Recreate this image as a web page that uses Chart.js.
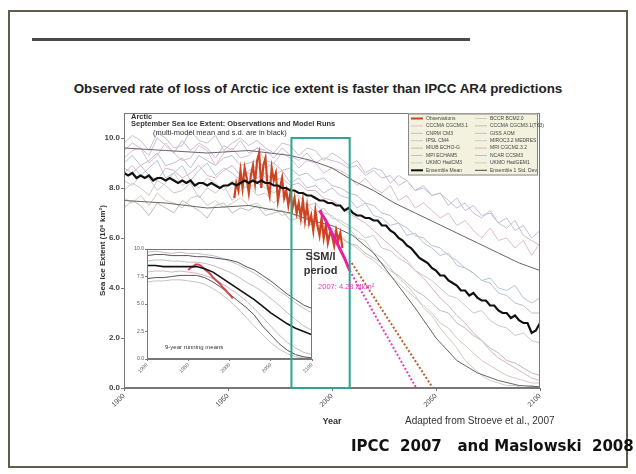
<!DOCTYPE html>
<html><head><meta charset="utf-8">
<script src="https://cdn.jsdelivr.net/npm/chart.js@4.4.1/dist/chart.umd.min.js"></script>
<style>
html,body{margin:0;padding:0;background:#fff;}
#wrap{position:relative;width:636px;height:474px;overflow:hidden;background:#fff;}
canvas{position:absolute;}
#frame{position:absolute;left:8px;top:10px;width:620px;height:458px;border:2px solid #5e5e4a;box-sizing:border-box;}
#rule{position:absolute;left:32px;top:38px;width:438px;height:3px;background:#4a4a4a;}
#title{position:absolute;left:0;width:636px;top:81px;text-align:center;font:bold 13.4px "Liberation Sans",Arial,sans-serif;color:#222;}
#credit{position:absolute;left:405px;top:415px;font:10px "Liberation Sans",Arial,sans-serif;color:#333;}
#footer{position:absolute;left:351px;top:437px;font:bold 15px "DejaVu Sans",sans-serif;white-space:pre;color:#111;}
</style></head>
<body><div id="wrap">
<div id="frame"></div>
<div id="rule"></div>
<div id="title">Observed rate of loss of Arctic ice extent is faster than IPCC AR4 predictions</div>
<canvas id="main" width="636" height="474" style="left:0;top:0"></canvas>
<canvas id="inset" width="192" height="144" style="left:126px;top:242px"></canvas>
<canvas id="overlay" width="636" height="474" style="left:0;top:0;pointer-events:none"></canvas>
<div id="credit">Adapted from Stroeve et al., 2007</div>
<div id="footer">IPCC  2007   and Maslowski  2008</div>
</div>
<script>
function range(a,b,s){const r=[];for(let v=a;v<=b+1e-9;v+=s)r.push(v);return r;}

// ---------- main chart data ----------
const X_TICKS=[1900,1950,2000,2050,2100];
const Y_TICKS=[0,2,4,6,8,10];
const RUN_YEARS=range(1900,2100,4);
const RUN_A=[9.8,10.1,9.9,9.5,10.2,10.0,9.6,9.7,10.3,9.9,9.8,10.1,9.5,9.8,10.0,9.7, 9.9,9.6,9.4,9.8,9.7,9.3,9.6,9.5,9.1,9.4, 9.2,8.9,9.1,8.6,8.8,8.7,8.2,8.5,8.3,7.9, 8.1,7.7,7.8,7.5,7.2,7.4,7.0,6.8,7.1,6.6, 6.4,6.7,6.1,5.9,5.7];
const RUN_B=[9.2,9.5,9.6,9.0,9.3,9.8,9.4,9.1,9.2,9.7,9.5,8.9,9.4,9.6,9.2,9.3, 9.6,9.1,9.0,9.4,9.2,8.8,9.1,9.0,8.6,8.8, 8.7,8.5,8.1,8.4,8.0,7.8,8.1,7.5,7.7,7.2, 7.4,7.1,6.8,7.0,6.5,6.7,6.3,6.0,6.4,5.9, 6.0,5.6,5.9,5.3,5.8];
const RUN_C=[8.6,8.9,8.5,8.8,9.1,8.4,8.6,8.9,8.3,8.7,9.0,8.5,8.8,8.6,8.3,8.7, 8.9,8.4,8.5,8.7,8.2,8.4,8.0,8.1,7.8,8.0, 7.7,7.6,7.2,7.4,6.9,6.8,6.5,6.6,6.1,6.2, 5.8,5.6,5.3,5.4,4.9,4.8,4.6,4.3,4.4,4.0, 3.9,4.1,3.6,3.4,3.6];
const RUN_D=[7.9,8.2,8.0,7.7,8.3,8.1,7.8,7.9,8.2,7.6,8.0,7.8,8.1,7.5,7.9,8.1, 7.7,7.8,7.4,7.7,7.5,7.2,7.4,7.0,7.2,6.8, 6.7,6.5,6.3,6.0,6.1,5.6,5.5,5.2,5.0,4.7, 4.5,4.3,4.0,3.7,3.6,3.3,3.0,3.1,2.7,2.5, 2.4,2.1,2.2,1.9,1.8];
const RUN_E=[7.2,7.5,7.3,6.9,7.4,7.2,7.0,7.5,7.3,7.1,6.8,7.3,7.4,7.0,7.2,7.1, 7.3,6.9,7.0,7.1,6.7,6.8,6.5,6.6,6.2,6.4, 6.0,5.8,5.7,5.4,5.2,5.0,4.7,4.5,4.2,3.9, 3.7,3.4,3.1,3.0,2.6,2.4,2.1,1.9,1.6,1.4, 1.1,1.0,0.8,0.6,0.5];
const RUN_F=[9.5,9.8,9.6,9.3,10.0,9.7,9.4,9.9,9.5,9.8,9.6,9.2,9.7,9.5,9.9,9.4, 9.6,9.5,9.2,9.6,9.3,9.1,9.4,9.0,9.2,9.1, 9.0,8.8,8.9,8.5,8.7,8.4,8.5,8.1,8.3,7.9, 8.0,7.7,7.8,7.3,7.6,7.1,7.3,6.9,7.0,6.6, 6.8,6.3,6.5,6.0,6.3];
const RUN_G=[8.3,8.1,8.5,8.4,7.9,8.2,8.6,8.1,8.3,8.0,8.4,8.2,7.9,8.3,8.1,8.0, 8.2,8.0,7.8,8.0,7.6,7.7,7.3,7.4,7.0,6.9, 6.6,6.4,6.0,5.9,5.4,5.2,4.8,4.4,4.1,3.7, 3.2,2.9,2.4,2.0,1.6,1.1,0.8,0.5,0.3,0.2, 0.1,0.1,0.0,0.1,0.0];
const RUN_H=[8.8,8.6,8.9,8.5,8.3,8.8,8.7,8.4,8.6,8.9,8.5,8.4,8.7,8.9,8.5,8.6, 8.4,8.6,8.3,8.4,8.1,8.2,7.9,7.9,7.6,7.5, 7.3,7.0,6.8,6.6,6.3,6.0,5.7,5.4,5.1,4.7, 4.4,4.0,3.6,3.3,2.9,2.6,2.2,1.9,1.5,1.2, 1.0,0.8,0.6,0.4,0.3];
const RUN_I=[9.0,9.3,8.9,9.1,9.4,8.9,9.0,9.2,8.8,9.3,9.1,8.9,9.2,9.3,8.9,9.0, 9.1,8.8,9.0,8.7,8.8,8.5,8.6,8.3,8.4,8.1, 8.0,7.8,7.7,7.4,7.3,7.0,6.9,6.6,6.4,6.1, 6.0,5.7,5.6,5.3,5.1,4.8,4.6,4.3,4.2,3.8, 3.7,3.4,3.3,3.0,3.0];
const RUN_J=[7.6,7.4,7.7,7.3,7.8,7.5,7.4,7.2,7.6,7.7,7.3,7.5,7.2,7.4,7.6,7.3, 7.4,7.1,7.2,6.9,7.0,6.8,6.8,6.5,6.5,6.2, 6.1,5.8,5.6,5.3,5.1,4.8,4.5,4.2,3.9,3.6, 3.3,3.0,2.6,2.4,2.0,1.7,1.4,1.1,0.9,0.7, 0.5,0.4,0.3,0.2,0.2];
const RUNS=[RUN_A,RUN_B,RUN_C,RUN_D,RUN_E,RUN_F,RUN_G,RUN_H,RUN_I,RUN_J];
const RUN_COLORS=['#c6c0c6','#e0bccd','#b6c4da','#d2c4c8','#bcbcbc','#cab8de','#c6d0c4','#dab2c4','#b8bfcc','#d6c8bc'];

const SD_YEARS=[1900,1920,1940,1960,1980,1990,2000,2010,2020,2030,2040,2050,2060,2070,2080,2090,2100];
const SD_UPPER=[9.6,9.5,9.4,9.5,9.3,9.1,8.8,8.3,7.9,7.4,7.0,6.6,6.2,5.8,5.4,5.0,4.7];
const SD_LOWER=[7.5,7.4,7.2,7.3,7.0,6.7,6.5,6.1,5.4,4.3,3.2,2.0,1.1,0.6,0.3,0.1,0.05];

const MEAN_YEARS=range(1900,2100,2);
const MEAN=[8.6,8.5,8.6,8.4,8.5,8.4,8.5,8.3,8.4,8.4,
 8.3,8.4,8.3,8.2,8.3,8.2,8.3,8.1,8.2,8.2,
 8.1,8.2,8.1,8.0,8.1,8.1,8.2,8.1,8.2,8.3,
 8.2,8.3,8.2,8.3,8.2,8.2,8.1,8.1,8.0,8.0,
 7.9,7.9,7.8,7.8,7.7,7.7,7.6,7.5,7.5,7.4,
 7.4,7.3,7.3,7.1,7.2,7.0,6.9,6.9,6.8,6.8,
 6.7,6.7,6.5,6.5,6.3,6.2,6.0,5.9,5.7,5.6,
 5.4,5.2,5.1,5.0,4.8,4.7,4.5,4.5,4.3,4.2,
 4.1,3.9,3.9,3.7,3.8,3.6,3.5,3.5,3.3,3.3,
 3.1,3.0,3.0,2.8,2.9,2.7,2.6,2.6,2.2,2.3,
 2.6];

const OBS_YEARS=range(1953,2005,1);
const OBS=[7.6,8.2,7.9,8.7,8.0,8.8,8.4,7.8,8.5,8.9,
 8.2,9.1,9.4,8.0,8.9,9.2,8.1,7.7,8.8,8.3,
 8.6,7.5,8.0,8.4,7.6,7.9,7.3,7.8,7.2,7.6,
 7.0,7.4,6.8,7.5,6.7,7.3,6.6,6.9,6.3,7.1,
 6.5,6.1,6.8,6.0,6.5,5.8,6.2,6.1,5.7,6.3,
 5.9,6.2,5.6];

const PROJ_YEARS=[1994,1997,2000,2003,2006,2008.5];
const PROJ=[7.1,6.7,6.2,5.7,5.2,4.7];
const DOT_MAGENTA_YEARS=[2008.5,2040.5];
const DOT_MAGENTA=[4.7,0];
const DOT_BROWN_YEARS=[2009.5,2048.5];
const DOT_BROWN=[5.0,0];

const SSMI_PERIOD=[1980.5,2008.5];
const SSMI_TOP=10;

const LEGEND_LEFT=['Observations','CCCMA CGCM3.1','CNRM CM3','IPSL CM4','MIUB ECHO-G','MPI ECHAM5','UKMO HadCM3','Ensemble Mean'];
const LEGEND_RIGHT=['BCCR BCM2.0','CCCMA CGCM3.1(T63)','GISS AOM','MIROC3.2 MEDRES','MRI CGCM2.3.2','NCAR CCSM3','UKMO HadGEM1','Ensemble 1 Std. Dev.'];

// ---------- inset data ----------
const INSET_X_TICKS=[1900,1950,2000,2050,2100];
const INSET_Y_TICKS=[0,2.5,5,7.5,10];
const INSET_YEARS=range(1900,2100,10);
const INSET_MEAN=[8.5,8.5,8.4,8.4,8.4,8.4,8.4,8.2,7.9,7.4,6.9,6.4,5.9,5.4,4.8,4.2,3.7,3.2,2.8,2.5,2.2];
const INSET_UPPER=[9.4,9.5,9.5,9.4,9.4,9.4,9.3,9.3,9.2,9.1,9.0,8.8,8.4,8.1,7.6,7.1,6.5,5.9,5.4,4.9,4.6];
const INSET_LOWER=[7.3,7.4,7.4,7.5,7.6,7.6,7.6,7.4,7.0,6.5,5.9,5.3,4.7,4.0,3.0,2.2,1.4,0.8,0.4,0.2,0.1];
const INSET_P1=[9.7,9.8,9.7,9.6,9.7,9.6,9.6,9.5,9.4,9.2,8.9,8.6,8.2,7.8,7.3,6.8,6.2,5.7,5.1,4.6,4.2];
const INSET_P2=[8.9,9.0,9.0,8.9,8.9,8.8,8.8,8.7,8.5,8.2,7.9,7.5,7.0,6.6,6.1,5.5,4.9,4.2,3.6,3.0,2.6];
const INSET_P3=[7.9,8.0,8.0,7.9,8.0,7.9,7.8,7.6,7.3,6.9,6.4,5.9,5.3,4.6,3.8,3.0,2.2,1.5,1.0,0.6,0.4];
const INSET_P4=[7.0,7.1,7.1,7.2,7.2,7.1,7.0,6.8,6.4,5.9,5.3,4.6,3.8,3.0,2.2,1.5,0.9,0.5,0.2,0.1,0.0];
const INSET_OBS_YEARS=[1950,1953,1956,1959,1962,1965,1968,1971,1974,1977,1980,1983,1986,1989,1992,1995,1998,2001,2004];
const INSET_OBS=[8.1,8.3,8.4,8.6,8.6,8.5,8.3,8.1,7.9,7.7,7.4,7.2,7.0,6.8,6.5,6.3,6.0,5.8,5.5];

function pts(xs,ys){return ys.map((v,i)=>({x:xs[i],y:v}));}
function ds(xs,ys,color,width,order,extra){return Object.assign({data:pts(xs,ys),borderColor:color,borderWidth:width,pointRadius:0,fill:false,tension:0,order:order},extra||{});}

const mainSets=[];
mainSets.push(ds(PROJ_YEARS,PROJ,'#e81ea4',3,0));
mainSets.push(ds(DOT_MAGENTA_YEARS,DOT_MAGENTA,'#e83cbc',2,0,{borderDash:[2,2]}));
mainSets.push(ds(DOT_BROWN_YEARS,DOT_BROWN,'#b8602c',2,0,{borderDash:[2,2]}));
mainSets.push(ds(MEAN_YEARS,MEAN,'#111',2.2,1));
mainSets.push(ds(OBS_YEARS,OBS,'#cc4422',2.2,2));
mainSets.push(ds(SD_YEARS,SD_UPPER,'#666',1,3));
mainSets.push(ds(SD_YEARS,SD_LOWER,'#666',1,3));
RUNS.forEach((r,i)=>mainSets.push(ds(RUN_YEARS,r,RUN_COLORS[i],1,5)));

const FONT='"Liberation Sans", Arial, sans-serif';

function drawOverlay(chart){
  const c=document.getElementById('overlay');const ctx=c.getContext('2d');
  ctx.clearRect(0,0,c.width,c.height);
  const xs=chart.scales.x, ys=chart.scales.y;
  const l=xs.getPixelForValue(SSMI_PERIOD[0]), r=xs.getPixelForValue(SSMI_PERIOD[1]);
  const t=ys.getPixelForValue(SSMI_TOP), b=ys.getPixelForValue(0);
  ctx.strokeStyle='#2ba68f';ctx.lineWidth=2;ctx.strokeRect(l,t,r-l,b-t);
  ctx.fillStyle='#333';ctx.font='bold 11px '+FONT;ctx.textAlign='center';ctx.textBaseline='middle';
  ctx.fillText('SSM/I',(l+r)/2,ys.getPixelForValue(5.25));
  ctx.fillText('period',(l+r)/2,ys.getPixelForValue(4.68));
  ctx.fillStyle='#e040b8';ctx.font='7.5px '+FONT;ctx.textAlign='left';
  ctx.fillText('2007: 4.28 Mkm²',xs.getPixelForValue(1993.3),ys.getPixelForValue(4.04));
}

const mainPlugin={id:'mainDeco',
  afterDraw(chart){
    const ctx=chart.ctx, a=chart.chartArea;
    ctx.save();
    ctx.strokeStyle='#777';ctx.lineWidth=1;
    ctx.strokeRect(a.left+0.5,a.top+0.5,a.right-a.left-1,a.bottom-a.top-1);
    ctx.fillStyle='#333';ctx.textAlign='left';ctx.textBaseline='middle';
    ctx.font='bold 7.5px '+FONT;
    ctx.fillText('Arctic',a.left+7,a.top+4);
    ctx.fillText('September Sea Ice Extent: Observations and Model Runs',a.left+7,a.top+11);
    ctx.font='7.5px '+FONT;
    ctx.fillText('(multi-model mean and s.d. are in black)',a.left+29,a.top+20);
    // legend box
    const lx=408, ly=a.top+0.5, lw=130, lh=62;
    ctx.fillStyle='#f2f2de';ctx.fillRect(lx,ly,lw,lh);
    ctx.strokeStyle='#888';ctx.strokeRect(lx+0.5,ly+0.5,lw-1,lh-1);
    ctx.font='5px '+FONT;
    const rowH=7.4;
    LEGEND_LEFT.forEach((t,i)=>{
      const y=ly+5+i*rowH;
      let col=i===0?'#cc4422':(i===7?'#111':RUN_COLORS[i]);
      ctx.strokeStyle=col;ctx.lineWidth=(i===0||i===7)?2:1;
      ctx.beginPath();ctx.moveTo(lx+3,y);ctx.lineTo(lx+15,y);ctx.stroke();
      ctx.fillStyle='#444';ctx.fillText(t,lx+18,y);
    });
    LEGEND_RIGHT.forEach((t,i)=>{
      const y=ly+5+i*rowH;
      let col=i===7?'#444':RUN_COLORS[(i+3)%10];
      ctx.strokeStyle=col;ctx.lineWidth=1;
      ctx.beginPath();ctx.moveTo(lx+67,y);ctx.lineTo(lx+79,y);ctx.stroke();
      ctx.fillStyle='#444';ctx.fillText(t,lx+82,y);
    });
    ctx.restore();
    drawOverlay(chart);
  }
};

const mainChart=new Chart(document.getElementById('main'),{
  type:'line',
  data:{datasets:mainSets},
  options:{
    responsive:false,animation:false,devicePixelRatio:1,
    layout:{padding:{left:96,top:113,right:96,bottom:46}},
    plugins:{legend:{display:false},tooltip:{enabled:false}},
    scales:{
      x:{type:'linear',min:1900,max:2100,
        afterFit:s=>{s.height=40;},
        afterBuildTicks:s=>{s.ticks=X_TICKS.map(v=>({value:v}));},
        ticks:{minRotation:45,maxRotation:45,autoSkip:false,font:{size:7,family:FONT},color:'#444',padding:1,callback:v=>String(v)},
        grid:{drawOnChartArea:false,drawTicks:true,tickLength:3,color:'#777'},
        border:{color:'#777',width:1},
        title:{display:true,text:'Year',font:{size:9,weight:'bold',family:FONT},color:'#333',padding:{top:0,bottom:1}}
      },
      y:{type:'linear',min:0,max:11,
        afterFit:s=>{s.width=28;},
        afterBuildTicks:s=>{s.ticks=Y_TICKS.map(v=>({value:v}));},
        ticks:{font:{size:8,weight:'bold',family:FONT},color:'#444',padding:1,callback:v=>Number(v).toFixed(1)},
        grid:{drawOnChartArea:false,drawTicks:true,tickLength:3,color:'#777'},
        border:{color:'#777',width:1},
        title:{display:true,text:'Sea Ice Extent (10⁶ km²)',font:{size:8,weight:'bold',family:FONT},color:'#333',padding:{top:2,bottom:0}}
      }
    }
  },
  plugins:[mainPlugin]
});

// ---------- inset ----------
const insetSets=[];
insetSets.push(ds(INSET_YEARS,INSET_MEAN,'#111',1.6,0));
insetSets.push(ds(INSET_OBS_YEARS,INSET_OBS,'#d04850',2,1));
insetSets.push(ds(INSET_YEARS,INSET_UPPER,'#555',1,2));
insetSets.push(ds(INSET_YEARS,INSET_LOWER,'#555',1,2));
insetSets.push(ds(INSET_YEARS,INSET_P1,'#c8b8d0',1,3));
insetSets.push(ds(INSET_YEARS,INSET_P2,'#bfbfbf',1,3));
insetSets.push(ds(INSET_YEARS,INSET_P3,'#d6b4c0',1,3));
insetSets.push(ds(INSET_YEARS,INSET_P4,'#c4c4c4',1,3));

const insetPlugin={id:'insetDeco',
  beforeDatasetsDraw(chart){
    const ctx=chart.ctx,a=chart.chartArea;
    ctx.save();ctx.fillStyle='#fff';ctx.fillRect(a.left,a.top,a.right-a.left,a.bottom-a.top);ctx.restore();
  },
  afterDraw(chart){
    const ctx=chart.ctx,a=chart.chartArea;
    ctx.save();
    ctx.strokeStyle='#777';ctx.lineWidth=1;
    ctx.strokeRect(a.left+0.5,a.top+0.5,a.right-a.left-1,a.bottom-a.top-1);
    ctx.fillStyle='#333';ctx.font='6px '+FONT;ctx.textBaseline='middle';ctx.textAlign='left';
    ctx.fillText('9-year running means',a.left+18,a.bottom-12);
    ctx.restore();
  }
};

new Chart(document.getElementById('inset'),{
  type:'line',
  data:{datasets:insetSets},
  options:{
    responsive:false,animation:false,devicePixelRatio:1,
    layout:{padding:{left:0,top:7,right:6,bottom:0}},
    plugins:{legend:{display:false},tooltip:{enabled:false}},
    scales:{
      x:{type:'linear',min:1900,max:2100,
        afterFit:s=>{s.height=27;},
        afterBuildTicks:s=>{s.ticks=INSET_X_TICKS.map(v=>({value:v}));},
        ticks:{minRotation:45,maxRotation:45,autoSkip:false,font:{size:5,family:FONT},color:'#555',padding:1,callback:v=>String(v)},
        grid:{drawOnChartArea:false,drawTicks:true,tickLength:2,color:'#777'},
        border:{color:'#777'}
      },
      y:{type:'linear',min:0,max:10,
        afterFit:s=>{s.width=21;},
        afterBuildTicks:s=>{s.ticks=INSET_Y_TICKS.map(v=>({value:v}));},
        ticks:{font:{size:5,family:FONT},color:'#555',padding:1,callback:v=>Number(v).toFixed(1)},
        grid:{drawOnChartArea:false,drawTicks:true,tickLength:2,color:'#777'},
        border:{color:'#777'}
      }
    }
  },
  plugins:[insetPlugin]
});
</script>
</body></html>
